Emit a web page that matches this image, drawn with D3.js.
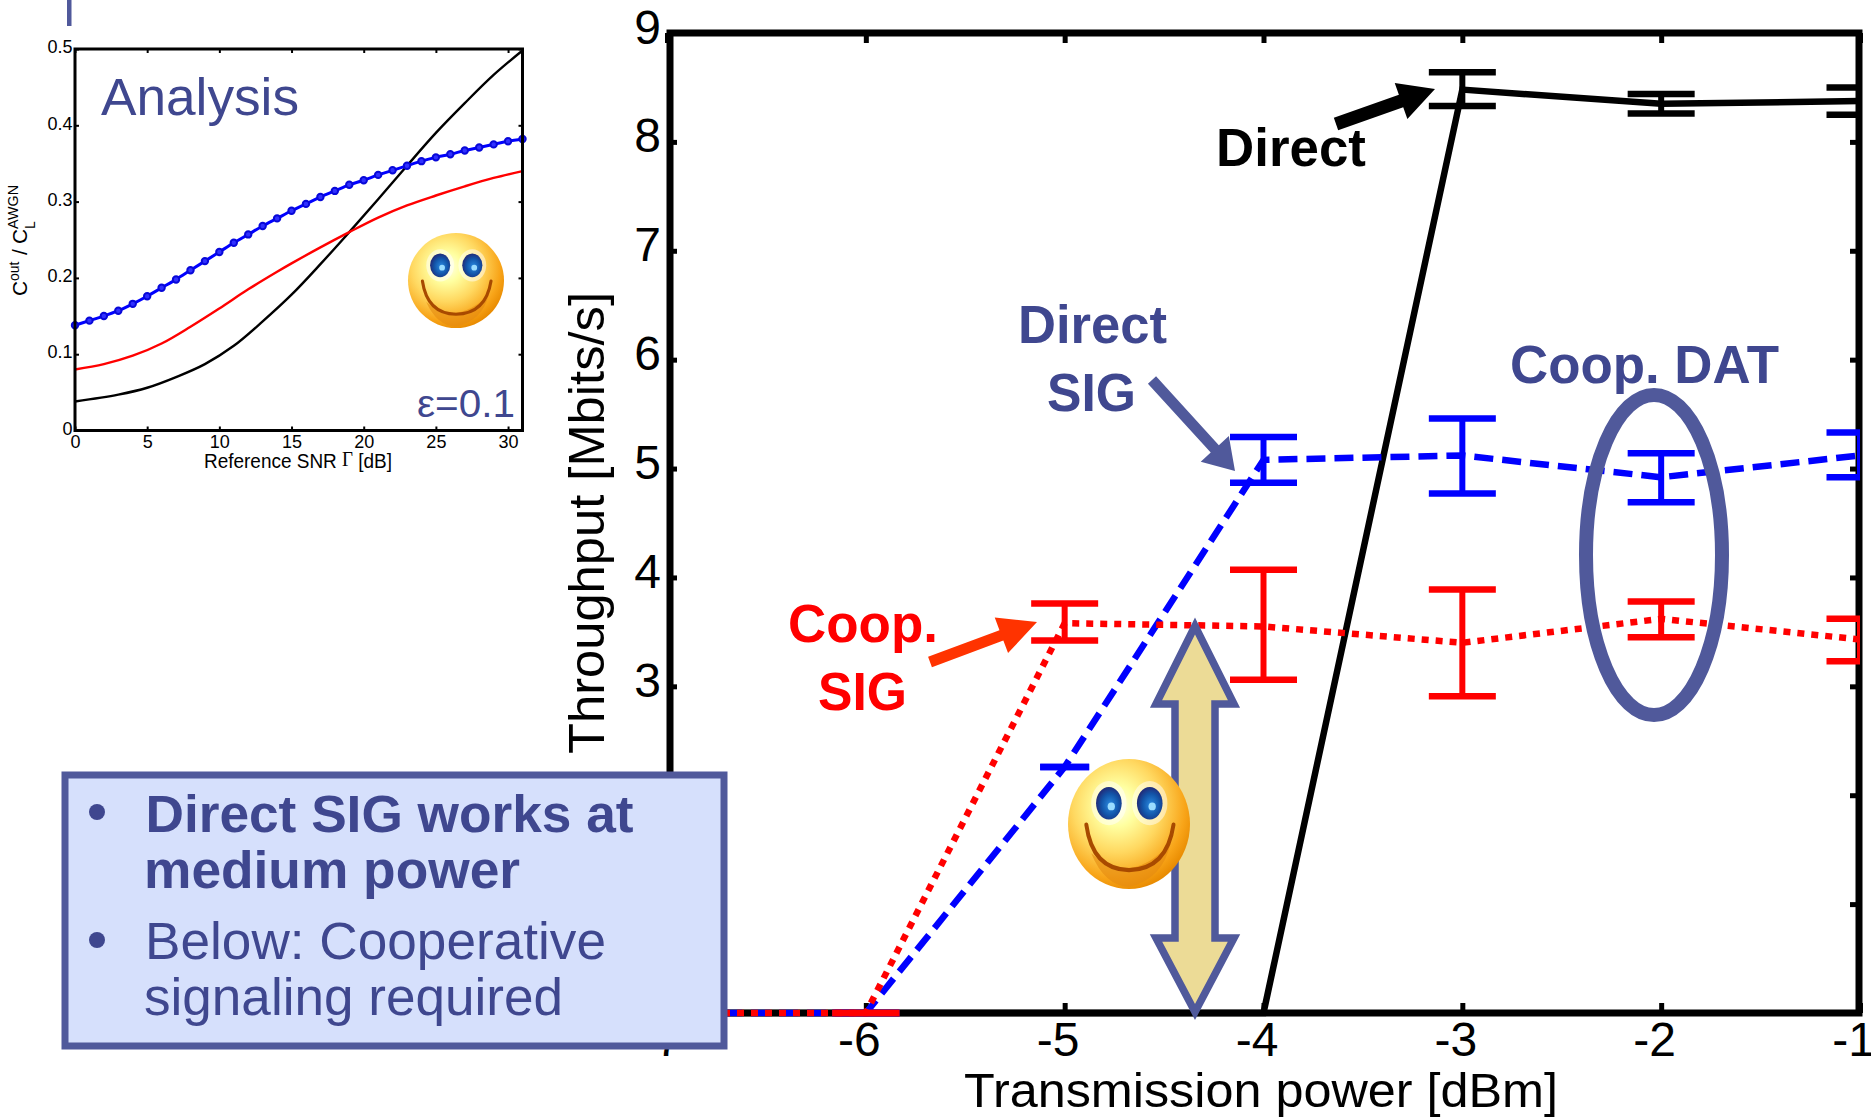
<!DOCTYPE html>
<html><head><meta charset="utf-8">
<script src="https://cdn.jsdelivr.net/npm/d3@7"></script>
<style>html,body{margin:0;padding:0;background:#fff;overflow:hidden}svg{display:block}text{font-family:"Liberation Sans",Arial,sans-serif}</style>
</head><body><div id="chart"></div>
<script>
// ---------- main chart data ----------
const powerTicks = [-7,-6,-5,-4,-3,-2,-1];
const throughputTicks = [0,1,2,3,4,5,6,7,8,9];
const directX = [-7,-6,-5,-4,-3,-2,-1];
const directY = [0,0,0,0,8.48,8.35,8.375];
const directLow = [null,null,null,null,8.33,8.26,8.25];
const directHigh = [null,null,null,null,8.64,8.44,8.5];
const directSigY = [0,0,2.26,5.08,5.12,4.92,5.12];
const directSigLow = [null,0,2.26,4.87,4.77,4.69,4.92];
const directSigHigh = [null,0,2.26,5.29,5.46,5.14,5.33];
const coopSigY = [0,0,3.58,3.55,3.40,3.62,3.43];
const coopSigLow = [null,0,3.42,3.06,2.91,3.45,3.23];
const coopSigHigh = [null,0,3.76,4.07,3.89,3.78,3.62];
// ---------- inset data ----------
const snrTicks = [0,5,10,15,20,25,30];
const ratioTicks = [0,0.1,0.2,0.3,0.4,0.5];
const snrBlue = [0,1,2,3,4,5,6,7,8,9,10,11,12,13,14,15,16,17,18,19,20,21,22,23,24,25,26,27,28,29,30,31];
const ratioBlue = [.138,.144,.15,.157,.166,.176,.187,.198,.21,.222,.234,.246,.257,.268,.278,.288,.297,.306,.314,.322,.328,.335,.341,.347,.353,.358,.362,.367,.371,.375,.379,.382];
const snrRed = [0,2,4,6,8,10,12,14,15,17,19,21,23,25,27,29,31];
const ratioRed = [.08,.087,.098,.114,.136,.16,.185,.208,.219,.24,.26,.279,.295,.308,.32,.331,.34];
const snrBlack = [0,3,5,7,9,11,13,15,17,19,21,23,25,27,29,31];
const ratioBlack = [.038,.047,.056,.07,.087,.111,.143,.178,.218,.26,.303,.347,.39,.429,.466,.498];

const INK="#50599b", TXT="#3f478f", RED="#ff0000", BLUE="#0000ff";
const svg=d3.select("#chart").append("svg").attr("width",1871).attr("height",1119);
const defs=svg.append("defs");

function label(g,s,x,y,size,w,opt={}){
  const t=g.append("text").attr("x",x).attr("y",y).attr("font-size",size).text(s)
    .attr("fill",opt.fill||"#000").attr("font-weight",opt.bold?"bold":"normal");
  if(w) t.attr("textLength",w).attr("lengthAdjust","spacingAndGlyphs");
  return t;
}

// smiley gradients
const g1=defs.append("radialGradient").attr("id","face").attr("cx",.4).attr("cy",.36).attr("r",.72);
[[0,"#fffff0"],[.22,"#ffffa0"],[.5,"#ffd860"],[.78,"#f8a418"],[.93,"#e88a00"],[1,"#c87000"]].forEach(s=>g1.append("stop").attr("offset",s[0]).attr("stop-color",s[1]));
const g2=defs.append("radialGradient").attr("id","eye").attr("cx",.55).attr("cy",.55).attr("r",.62);
[[0,"#2a8ae0"],[.55,"#1254a8"],[.85,"#20307e"],[1,"#22286e"]].forEach(s=>g2.append("stop").attr("offset",s[0]).attr("stop-color",s[1]));
function smiley(g,cx,cy,rx,ry){
  const s=g.append("g").attr("transform",`translate(${cx},${cy}) scale(${rx},${ry})`);
  s.append("circle").attr("r",1).attr("fill","url(#face)");
  s.append("path").attr("d","M-.62,.45 Q0,.98 .68,.30 Q.55,.85 0,.97 Q-.4,.95 -.62,.45Z").attr("fill","#e48a10").attr("opacity",.6);
  [[-.33,-.32],[.34,-.32]].forEach(e=>{
    s.append("ellipse").attr("cx",e[0]).attr("cy",e[1]).attr("rx",.29).attr("ry",.34).attr("fill","#fff").attr("opacity",.5);
    s.append("ellipse").attr("cx",e[0]).attr("cy",e[1]).attr("rx",.21).attr("ry",.25).attr("fill","url(#eye)");
    s.append("circle").attr("cx",e[0]+.04).attr("cy",e[1]+.05).attr("r",.06).attr("fill","#9adcff");
  });
  s.append("path").attr("d","M-.70,.01 Q-.6,.70 0,.71 Q.62,.70 .73,.01").attr("fill","none").attr("stroke","#a84a00").attr("stroke-width",.065).attr("stroke-linecap","round");
}

// ---------- inset ----------
const ix=d3.scaleLinear([0,31],[75,522.5]), iy=d3.scaleLinear([0,.5],[430.5,49]);
const ins=svg.append("g");
ins.append("rect").attr("x",67).attr("y",0).attr("width",4.5).attr("height",26).attr("fill",INK);
const iline=(xs,ys)=>d3.line().x((d,i)=>ix(xs[i])).y(d=>iy(d)).curve(d3.curveCatmullRom.alpha(.5))(ys);
ins.append("path").attr("d",iline(snrBlack,ratioBlack)).attr("fill","none").attr("stroke","#000").attr("stroke-width",2.4);
ins.append("path").attr("d",iline(snrRed,ratioRed)).attr("fill","none").attr("stroke",RED).attr("stroke-width",2.4);
ins.append("path").attr("d",iline(snrBlue,ratioBlue)).attr("fill","none").attr("stroke",BLUE).attr("stroke-width",3);
ins.selectAll("circle.m").data(ratioBlue).join("circle").attr("class","m")
  .attr("cx",(d,i)=>ix(snrBlue[i])).attr("cy",d=>iy(d)).attr("r",3.2).attr("fill","#3030ff").attr("stroke","#0808d8").attr("stroke-width",2);
function styleAxis(a,w){a.select(".domain").remove();a.selectAll("line").attr("stroke","#000").attr("stroke-width",w);}
let a;
a=ins.append("g").attr("transform","translate(0,430.5)").call(d3.axisBottom(ix).tickValues(snrTicks).tickSize(-4).tickFormat(String));
styleAxis(a,2);a.selectAll("text").attr("y",17.5).attr("dy",0).attr("font-size",18).attr("font-family","Liberation Sans").attr("fill","#000");
a=ins.append("g").attr("transform","translate(0,49)").call(d3.axisTop(ix).tickValues(snrTicks).tickSize(-4).tickFormat(""));styleAxis(a,2);
a=ins.append("g").attr("transform","translate(75,0)").call(d3.axisLeft(iy).tickValues(ratioTicks).tickSize(-4).tickFormat(d=>d===0?"0":d3.format(".1f")(d)));
styleAxis(a,2);a.selectAll("text").attr("x",-2.5).attr("dy",3.7).attr("font-size",18).attr("font-family","Liberation Sans").attr("fill","#000");
a=ins.append("g").attr("transform","translate(522.5,0)").call(d3.axisRight(iy).tickValues(ratioTicks).tickSize(-4).tickFormat(""));styleAxis(a,2);
ins.append("rect").attr("x",75).attr("y",49).attr("width",447.5).attr("height",381.5).attr("fill","none").attr("stroke","#000").attr("stroke-width",3);
const rt=ins.append("text").attr("x",204).attr("y",468).attr("font-size",20).attr("textLength",188).attr("lengthAdjust","spacingAndGlyphs");
rt.append("tspan").text("Reference SNR ");
rt.append("tspan").attr("font-family","Liberation Serif").attr("dy",-2).text("Γ");
rt.append("tspan").attr("dy",2).text(" [dB]");
const yt=ins.append("g").attr("transform","translate(27,296) rotate(-90)");
label(yt,"C",0,0,21);
label(yt,"out",15,-8,14);
label(yt,"/",41,0,21);
label(yt,"C",52,0,21);
label(yt,"AWGN",67,-9,14,44);
label(yt,"L",67,8,14);
label(ins,"Analysis",101,115,51,198,{fill:TXT});
label(ins,"ε=0.1",417,417,39,98,{fill:TXT});
smiley(ins,456,280.5,48,47.5);

// ---------- main chart ----------
const x=d3.scaleLinear([-7,-1],[667,1860]), y=d3.scaleLinear([0,9],[1013,33]);
const m=svg.append("g");
defs.append("clipPath").attr("id","plot").append("rect").attr("x",667).attr("y",33).attr("width",1193).attr("height",990);
const ax=(k)=>k.tickSize(-10);
a=m.append("g").attr("transform","translate(0,1013)").call(ax(d3.axisBottom(x).tickValues(powerTicks).tickFormat(String)));
styleAxis(a,5);a.selectAll("text").attr("y",43).attr("dy",0).attr("dx",-7).attr("font-size",48).attr("font-family","Liberation Sans").attr("fill","#000");
a=m.append("g").attr("transform","translate(0,33)").call(ax(d3.axisTop(x).tickValues(powerTicks).tickFormat("")));styleAxis(a,5);
a=m.append("g").attr("transform","translate(667,0)").call(ax(d3.axisLeft(y).tickValues(throughputTicks).tickFormat(String)));
styleAxis(a,5);a.selectAll("text").attr("x",-6).attr("dy",10).attr("font-size",48).attr("font-family","Liberation Sans").attr("fill","#000");
a=m.append("g").attr("transform","translate(1860,0)").call(ax(d3.axisRight(y).tickValues(throughputTicks).tickFormat("")));styleAxis(a,5);
m.append("rect").attr("x",670).attr("y",33).attr("width",1189).attr("height",980).attr("fill","none").attr("stroke","#000").attr("stroke-width",7);
label(m,"Transmission power [dBm]",964,1107,48,594);
label(m,"Throughput [Mbits/s]",0,0,50,462).attr("transform","translate(604,754) rotate(-90)");

const plot=m.append("g").attr("clip-path","url(#plot)");
const ln=(ys)=>d3.line().x((d,i)=>x(directX[i])).y(d=>y(d))(ys);
function bars(low,high,col){
  directX.forEach((v,i)=>{
    if(low[i]===null) return;
    const hw=(i===2&&col===BLUE)?24.5:33.5;
    plot.append("line").attr("x1",x(v)).attr("x2",x(v)).attr("y1",y(low[i])).attr("y2",y(high[i])).attr("stroke",col).attr("stroke-width",6);
    [low[i],high[i]].forEach(e=>plot.append("line").attr("x1",x(v)-hw).attr("x2",x(v)+hw).attr("y1",y(e)).attr("y2",y(e)).attr("stroke",col).attr("stroke-width",6.5));
  });
}
plot.append("path").attr("d",ln(directY)).attr("fill","none").attr("stroke","#000").attr("stroke-width",6.5);
bars(directLow,directHigh,"#000");
bars(directSigLow,directSigHigh,BLUE);
plot.append("path").attr("d",ln(directSigY)).attr("fill","none").attr("stroke",BLUE).attr("stroke-width",6.5).attr("stroke-dasharray","19,9");
bars(coopSigLow,coopSigHigh,RED);
plot.append("path").attr("d",ln(coopSigY)).attr("fill","none").attr("stroke",RED).attr("stroke-width",6.5).attr("stroke-dasharray","7,7");

// annotations
function arrow(g,x0,y0,x1,y1,sw,hl,hw,col){
  const dx=x1-x0,dy=y1-y0,L=Math.hypot(dx,dy),ux=dx/L,uy=dy/L,nx=-uy,ny=ux;
  const bx=x1-ux*hl,by=y1-uy*hl;
  const p=[[x0+nx*sw/2,y0+ny*sw/2],[bx+nx*sw/2,by+ny*sw/2],[bx+nx*hw,by+ny*hw],[x1,y1],[bx-nx*hw,by-ny*hw],[bx-nx*sw/2,by-ny*sw/2],[x0-nx*sw/2,y0-ny*sw/2]];
  g.append("path").attr("d","M"+p.join("L")+"Z").attr("fill",col);
}
const an=svg.append("g");
arrow(an,1336,124,1435,89,13,36,19,"#000");
arrow(an,1152,380,1235,471,11,30,19,INK);
arrow(an,930,662,1037,622,11,38,19,"#ff3300");
label(an,"Direct",1216,166,53,150,{bold:true});
label(an,"Direct",1018,343,53,149,{bold:true,fill:TXT});
label(an,"SIG",1047,411,53,89,{bold:true,fill:TXT});
label(an,"Coop. DAT",1510,383,53,269,{bold:true,fill:TXT});
label(an,"Coop.",788,642,53,150,{bold:true,fill:RED});
label(an,"SIG",818,710,53,89,{bold:true,fill:RED});
an.append("ellipse").attr("cx",1654).attr("cy",555).attr("rx",68).attr("ry",160).attr("fill","none").attr("stroke",INK).attr("stroke-width",14);
const cx=1195;
an.append("path").attr("d",d3.line()([[cx,626],[cx+39,704],[cx+20,704],[cx+20,938],[cx+39,938],[cx,1012],[cx-39,938],[cx-20,938],[cx-20,704],[cx-39,704]])+"Z")
  .attr("fill","#ecdb96").attr("stroke",INK).attr("stroke-width",7.5);
smiley(an,1129,824,61,65);

// callout box
const b=svg.append("g");
b.append("rect").attr("x",65).attr("y",775).attr("width",659).attr("height",271).attr("fill","#d6e0fc").attr("stroke",INK).attr("stroke-width",7);
[812,940].forEach(cy=>b.append("ellipse").attr("cx",97).attr("cy",cy).attr("rx",8).attr("ry",8).attr("fill",TXT));
label(b,"Direct SIG works at",145.5,832,51,488,{bold:true,fill:TXT});
label(b,"medium power",144,888,51,376,{bold:true,fill:TXT});
label(b,"Below: Cooperative",145,959,51,461,{fill:TXT});
label(b,"signaling required",144,1015,51,419,{fill:TXT});
</script></body></html>
